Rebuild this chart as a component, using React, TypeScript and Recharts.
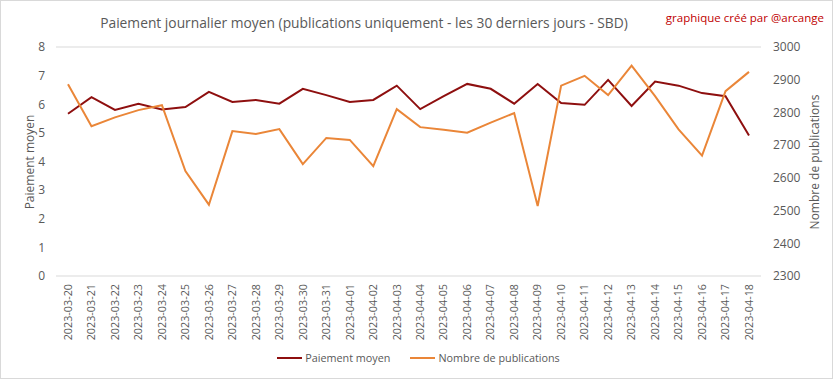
import React from "react";
import { CartesianGrid, Legend, Line, LineChart, XAxis, YAxis } from "recharts";

// Daily average payout and number of posts, last 30 days
const dates = [
  "2023-03-20", "2023-03-21", "2023-03-22", "2023-03-23", "2023-03-24",
  "2023-03-25", "2023-03-26", "2023-03-27", "2023-03-28", "2023-03-29",
  "2023-03-30", "2023-03-31", "2023-04-01", "2023-04-02", "2023-04-03",
  "2023-04-04", "2023-04-05", "2023-04-06", "2023-04-07", "2023-04-08",
  "2023-04-09", "2023-04-10", "2023-04-11", "2023-04-12", "2023-04-13",
  "2023-04-14", "2023-04-15", "2023-04-16", "2023-04-17", "2023-04-18",
];

const paiementMoyen = [
  5.67, 6.25, 5.8, 6.02, 5.82, 5.9, 6.43, 6.08, 6.15, 6.02,
  6.54, 6.32, 6.08, 6.15, 6.65, 5.83, 6.28, 6.71, 6.54, 6.02,
  6.71, 6.04, 5.98, 6.85, 5.94, 6.79, 6.65, 6.39, 6.28, 4.91,
];

const nombrePublications = [
  2886, 2758, 2785, 2807, 2822, 2621, 2518, 2743, 2734, 2749,
  2642, 2722, 2716, 2636, 2810, 2755, 2747, 2738, 2769, 2798,
  2514, 2882, 2912, 2853, 2943, 2850, 2748, 2668, 2865, 2924,
];

const leftTicks = [0, 1, 2, 3, 4, 5, 6, 7, 8];
const rightTicks = [2300, 2400, 2500, 2600, 2700, 2800, 2900, 3000];

const RED = "#8e0f0f";
const ORANGE = "#ea8638";
const TEXT = "#595959";
const GRID = "#d9d9d9";
const FONT = "'Open Sans', sans-serif";

const data = dates.map((d, i) => ({
  date: d,
  paiement: paiementMoyen[i],
  publications: nombrePublications[i],
}));

function DateTick({ x, y, payload }: any) {
  return (
    <text
      x={x}
      y={y}
      dy="0.35em"
      textAnchor="end"
      transform={`rotate(-90, ${x}, ${y})`}
      fill={TEXT}
      fontSize={10.8}
      fontFamily={FONT}
    >
      {payload.value}
    </text>
  );
}

function LegendContent() {
  const items = [
    { label: "Paiement moyen", color: RED },
    { label: "Nombre de publications", color: ORANGE },
  ];
  return (
    <div style={{ display: "flex", justifyContent: "center", gap: 20, fontFamily: FONT, fontSize: 10.8, color: TEXT, paddingLeft: 2 }}>
      {items.map((it) => (
        <div key={it.label} style={{ display: "flex", alignItems: "center" }}>
          <span style={{ display: "inline-block", width: 25, height: 2, background: it.color, marginRight: 3 }} />
          <span>{it.label}</span>
        </div>
      ))}
    </div>
  );
}

export default function App() {
  return (
    <div
      style={{
        position: "absolute",
        left: 0,
        top: 0,
        width: 833,
        height: 379,
        background: "#fff",
        border: "1px solid #d9d9d9",
        boxSizing: "border-box",
        fontFamily: FONT,
      }}
    >
      <div style={{ position: "absolute", left: 0, top: 0 }}>
        <LineChart width={833} height={379} data={data} margin={{ top: 46, right: 0, bottom: 0, left: 0 }}>
          <CartesianGrid horizontal vertical={false} stroke={GRID} strokeWidth={1} />
          <XAxis
            dataKey="date"
            interval={0}
            height={104}
            padding={{ left: 12, right: 12 }}
            axisLine={false}
            tickLine={false}
            tickSize={0}
            tickMargin={8}
            tick={<DateTick />}
          />
          <YAxis
            yAxisId="left"
            domain={[0, 8]}
            ticks={leftTicks}
            width={55}
            axisLine={false}
            tickLine={false}
            tickSize={0}
            tickMargin={11}
            tick={{ fill: TEXT, fontSize: 12, fontFamily: FONT }}
          />
          <YAxis
            yAxisId="right"
            orientation="right"
            domain={[2300, 3000]}
            ticks={rightTicks}
            width={73}
            axisLine={false}
            tickLine={false}
            tickSize={0}
            tickMargin={12}
            tick={{ fill: TEXT, fontSize: 12, fontFamily: FONT, textAnchor: "start" }}
          />
          <Legend
            verticalAlign="middle"
            align="center"
            content={<LegendContent />}
            wrapperStyle={{ top: 349, left: 0, width: 833 }}
          />
          <Line
            yAxisId="left"
            dataKey="paiement"
            name="Paiement moyen"
            type="linear"
            stroke={RED}
            strokeWidth={2}
            dot={false}
            isAnimationActive={false}
          />
          <Line
            yAxisId="right"
            dataKey="publications"
            name="Nombre de publications"
            type="linear"
            stroke={ORANGE}
            strokeWidth={2}
            dot={false}
            isAnimationActive={false}
          />
        </LineChart>
      </div>
      <div
        style={{
          position: "absolute",
          left: 0,
          width: 726,
          top: 12,
          textAlign: "center",
          fontSize: 13.8,
          color: TEXT,
          whiteSpace: "nowrap",
        }}
      >
        Paiement journalier moyen (publications uniquement - les 30 derniers jours - SBD)
      </div>
      <div
        style={{
          position: "absolute",
          right: 8,
          top: 9,
          fontSize: 11.5,
          color: "#c00000",
          whiteSpace: "nowrap",
        }}
      >
        graphique créé par @arcange
      </div>
      <div
        style={{
          position: "absolute",
          left: 28,
          top: 161,
          transform: "translate(-50%, -50%) rotate(-90deg)",
          fontSize: 12,
          color: TEXT,
          whiteSpace: "nowrap",
        }}
      >
        Paiement moyen
      </div>
      <div
        style={{
          position: "absolute",
          left: 813,
          top: 161,
          transform: "translate(-50%, -50%) rotate(-90deg)",
          fontSize: 12,
          color: TEXT,
          whiteSpace: "nowrap",
        }}
      >
        Nombre de publications
      </div>
    </div>
  );
}
